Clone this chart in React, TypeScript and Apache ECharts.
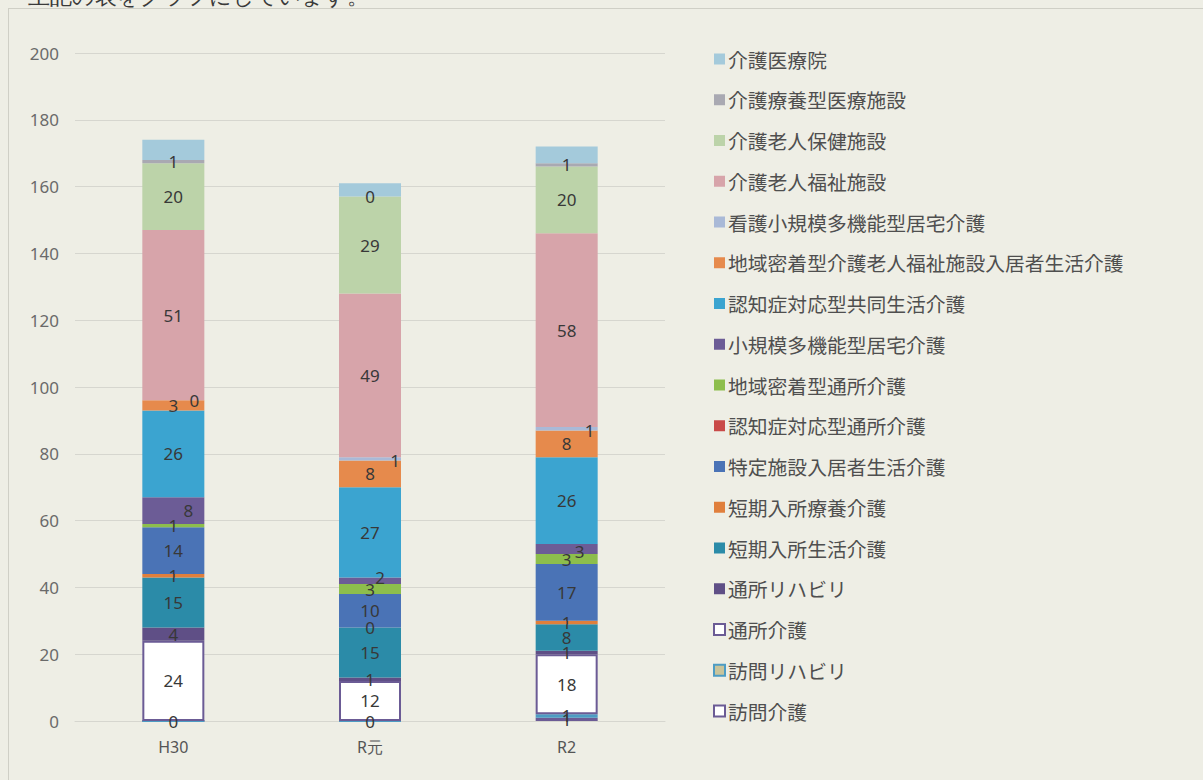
import React, { useEffect, useRef } from "react";
import * as echarts from "echarts";

const categories = ["H30", "R元", "R2"];

// stack order: bottom -> top
const houmonKaigo = [0, 0, 1];
const houmonRehab = [0, 0, 1];
const tsushoKaigo = [24, 12, 18];
const tsushoRehab = [4, 1, 1];
const tankiSeikatsu = [15, 15, 8];
const tankiRyoyo = [1, 0, 1];
const tokuteiShisetsu = [14, 10, 17];
const ninchiTsusho = [0, 0, 0];
const chiikiTsusho = [1, 3, 3];
const shokiboTakino = [8, 2, 3];
const ninchiKyodo = [26, 27, 26];
const chiikiFukushi = [3, 8, 8];
const kangoShokibo = [0, 1, 1];
const roujinFukushi = [51, 49, 58];
const roujinHoken = [20, 29, 20];
const ryoyoIryo = [1, 0, 1];
const iryoin = [6, 4, 5];

const yTicks = { min: 0, max: 200, interval: 20 };
const titleText = "上記の表をグラフにしています。";

const JP = '"Noto Sans CJK JP", "Noto Sans", sans-serif';
const NUM = '"Noto Sans", "Open Sans", sans-serif';

type Def = {
  name: string;
  data: number[];
  color: string;
  border?: string;
  borderWidth?: number;
  showLabel?: boolean;
  hideZero?: boolean;
  offsets?: ([number, number] | null)[];
};

const defs: Def[] = [
  { name: "訪問介護", data: houmonKaigo, color: "#ffffff", border: "#6b5b95", borderWidth: 2 },
  { name: "訪問リハビリ", data: houmonRehab, color: "#c9c49b", border: "#4d9cc4", borderWidth: 2, hideZero: true },
  { name: "通所介護", data: tsushoKaigo, color: "#ffffff", border: "#6b5b95", borderWidth: 2 },
  { name: "通所リハビリ", data: tsushoRehab, color: "#5f4f86" },
  { name: "短期入所生活介護", data: tankiSeikatsu, color: "#2b8ba8" },
  { name: "短期入所療養介護", data: tankiRyoyo, color: "#e07f3c" },
  { name: "特定施設入居者生活介護", data: tokuteiShisetsu, color: "#4a73b6" },
  { name: "認知症対応型通所介護", data: ninchiTsusho, color: "#c94a48", showLabel: false },
  { name: "地域密着型通所介護", data: chiikiTsusho, color: "#8dbe4c" },
  { name: "小規模多機能型居宅介護", data: shokiboTakino, color: "#6c5c96", offsets: [[15, 0], [10, -3], [13, 3]] },
  { name: "認知症対応型共同生活介護", data: ninchiKyodo, color: "#3ba4d0" },
  { name: "地域密着型介護老人福祉施設入居者生活介護", data: chiikiFukushi, color: "#e68a4c" },
  { name: "看護小規模多機能型居宅介護", data: kangoShokibo, color: "#a9b9d7", offsets: [[21, 0], [25, 2], [23, 2]] },
  { name: "介護老人福祉施設", data: roujinFukushi, color: "#d7a4aa" },
  { name: "介護老人保健施設", data: roujinHoken, color: "#bcd3a9" },
  { name: "介護療養型医療施設", data: ryoyoIryo, color: "#a9a9b2" },
  { name: "介護医療院", data: iryoin, color: "#a4cadb", showLabel: false },
];

export default function App() {
  const ref = useRef<HTMLDivElement>(null);
  useEffect(() => {
    document.body.style.margin = "0";
    document.body.style.overflow = "hidden";
    const chart = echarts.init(ref.current!, undefined, { renderer: "svg" });
    const series = defs.map((d) => ({
      name: d.name,
      type: "bar",
      stack: "total",
      barWidth: 62,
      itemStyle: {
        color: d.color,
        borderColor: d.border || d.color,
        borderWidth: d.borderWidth || 0,
      },
      label: {
        show: d.showLabel !== false,
        position: "inside",
        color: "#383838",
        fontSize: 17,
        fontFamily: NUM,
        formatter: "{c}",
      },
      data: d.data.map((v, i) => {
        const off = d.offsets ? d.offsets[i] : null;
        const item: any = { value: v };
        if (off) item.label = { offset: off };
        if (d.hideZero && v === 0) item.label = { show: false };
        return item;
      }),
    }));
    chart.setOption({
      animation: false,
      backgroundColor: "#eeeee5",
      grid: { left: 75, right: 538, top: 53, bottom: 59, containLabel: false },
      xAxis: {
        type: "category",
        data: categories,
        axisLine: { show: true, lineStyle: { color: "#d6d6cf", width: 1 } },
        axisTick: { show: false },
        axisLabel: { color: "#555555", fontSize: 16, fontFamily: NUM, margin: 18 },
      },
      yAxis: {
        type: "value",
        min: yTicks.min,
        max: yTicks.max,
        interval: yTicks.interval,
        axisLine: { show: false },
        axisTick: { show: false },
        splitLine: { lineStyle: { color: "#d6d6cf", width: 1 } },
        axisLabel: { color: "#6a6a6a", fontSize: 17, fontFamily: NUM, margin: 16 },
      },
      legend: {
        orient: "vertical",
        left: 708,
        top: 44,
        icon: "rect",
        itemWidth: 11,
        itemHeight: 11,
        itemGap: 20.75,
        data: defs.map((d) => d.name).reverse(),
        textStyle: { color: "#4f4f4f", fontSize: 19.8, lineHeight: 20, fontFamily: JP, padding: [0, 0, 0, -2] },
        selectedMode: false,
      },
      graphic: [
        {
          type: "text",
          left: 28,
          top: -15,
          style: { text: titleText, fontSize: 22, fill: "#3a3a3a", font: `22px ${JP}` },
        },
        {
          type: "line",
          shape: { x1: 8, y1: 8.5, x2: 1203, y2: 8.5 },
          style: { stroke: "#cfcfc6", lineWidth: 1 },
        },
        {
          type: "line",
          shape: { x1: 8.5, y1: 8, x2: 8.5, y2: 780 },
          style: { stroke: "#cfcfc6", lineWidth: 1 },
        },
      ],
      series,
    });
    return () => chart.dispose();
  }, []);
  return <div ref={ref} style={{ width: 1203, height: 780 }} />;
}
